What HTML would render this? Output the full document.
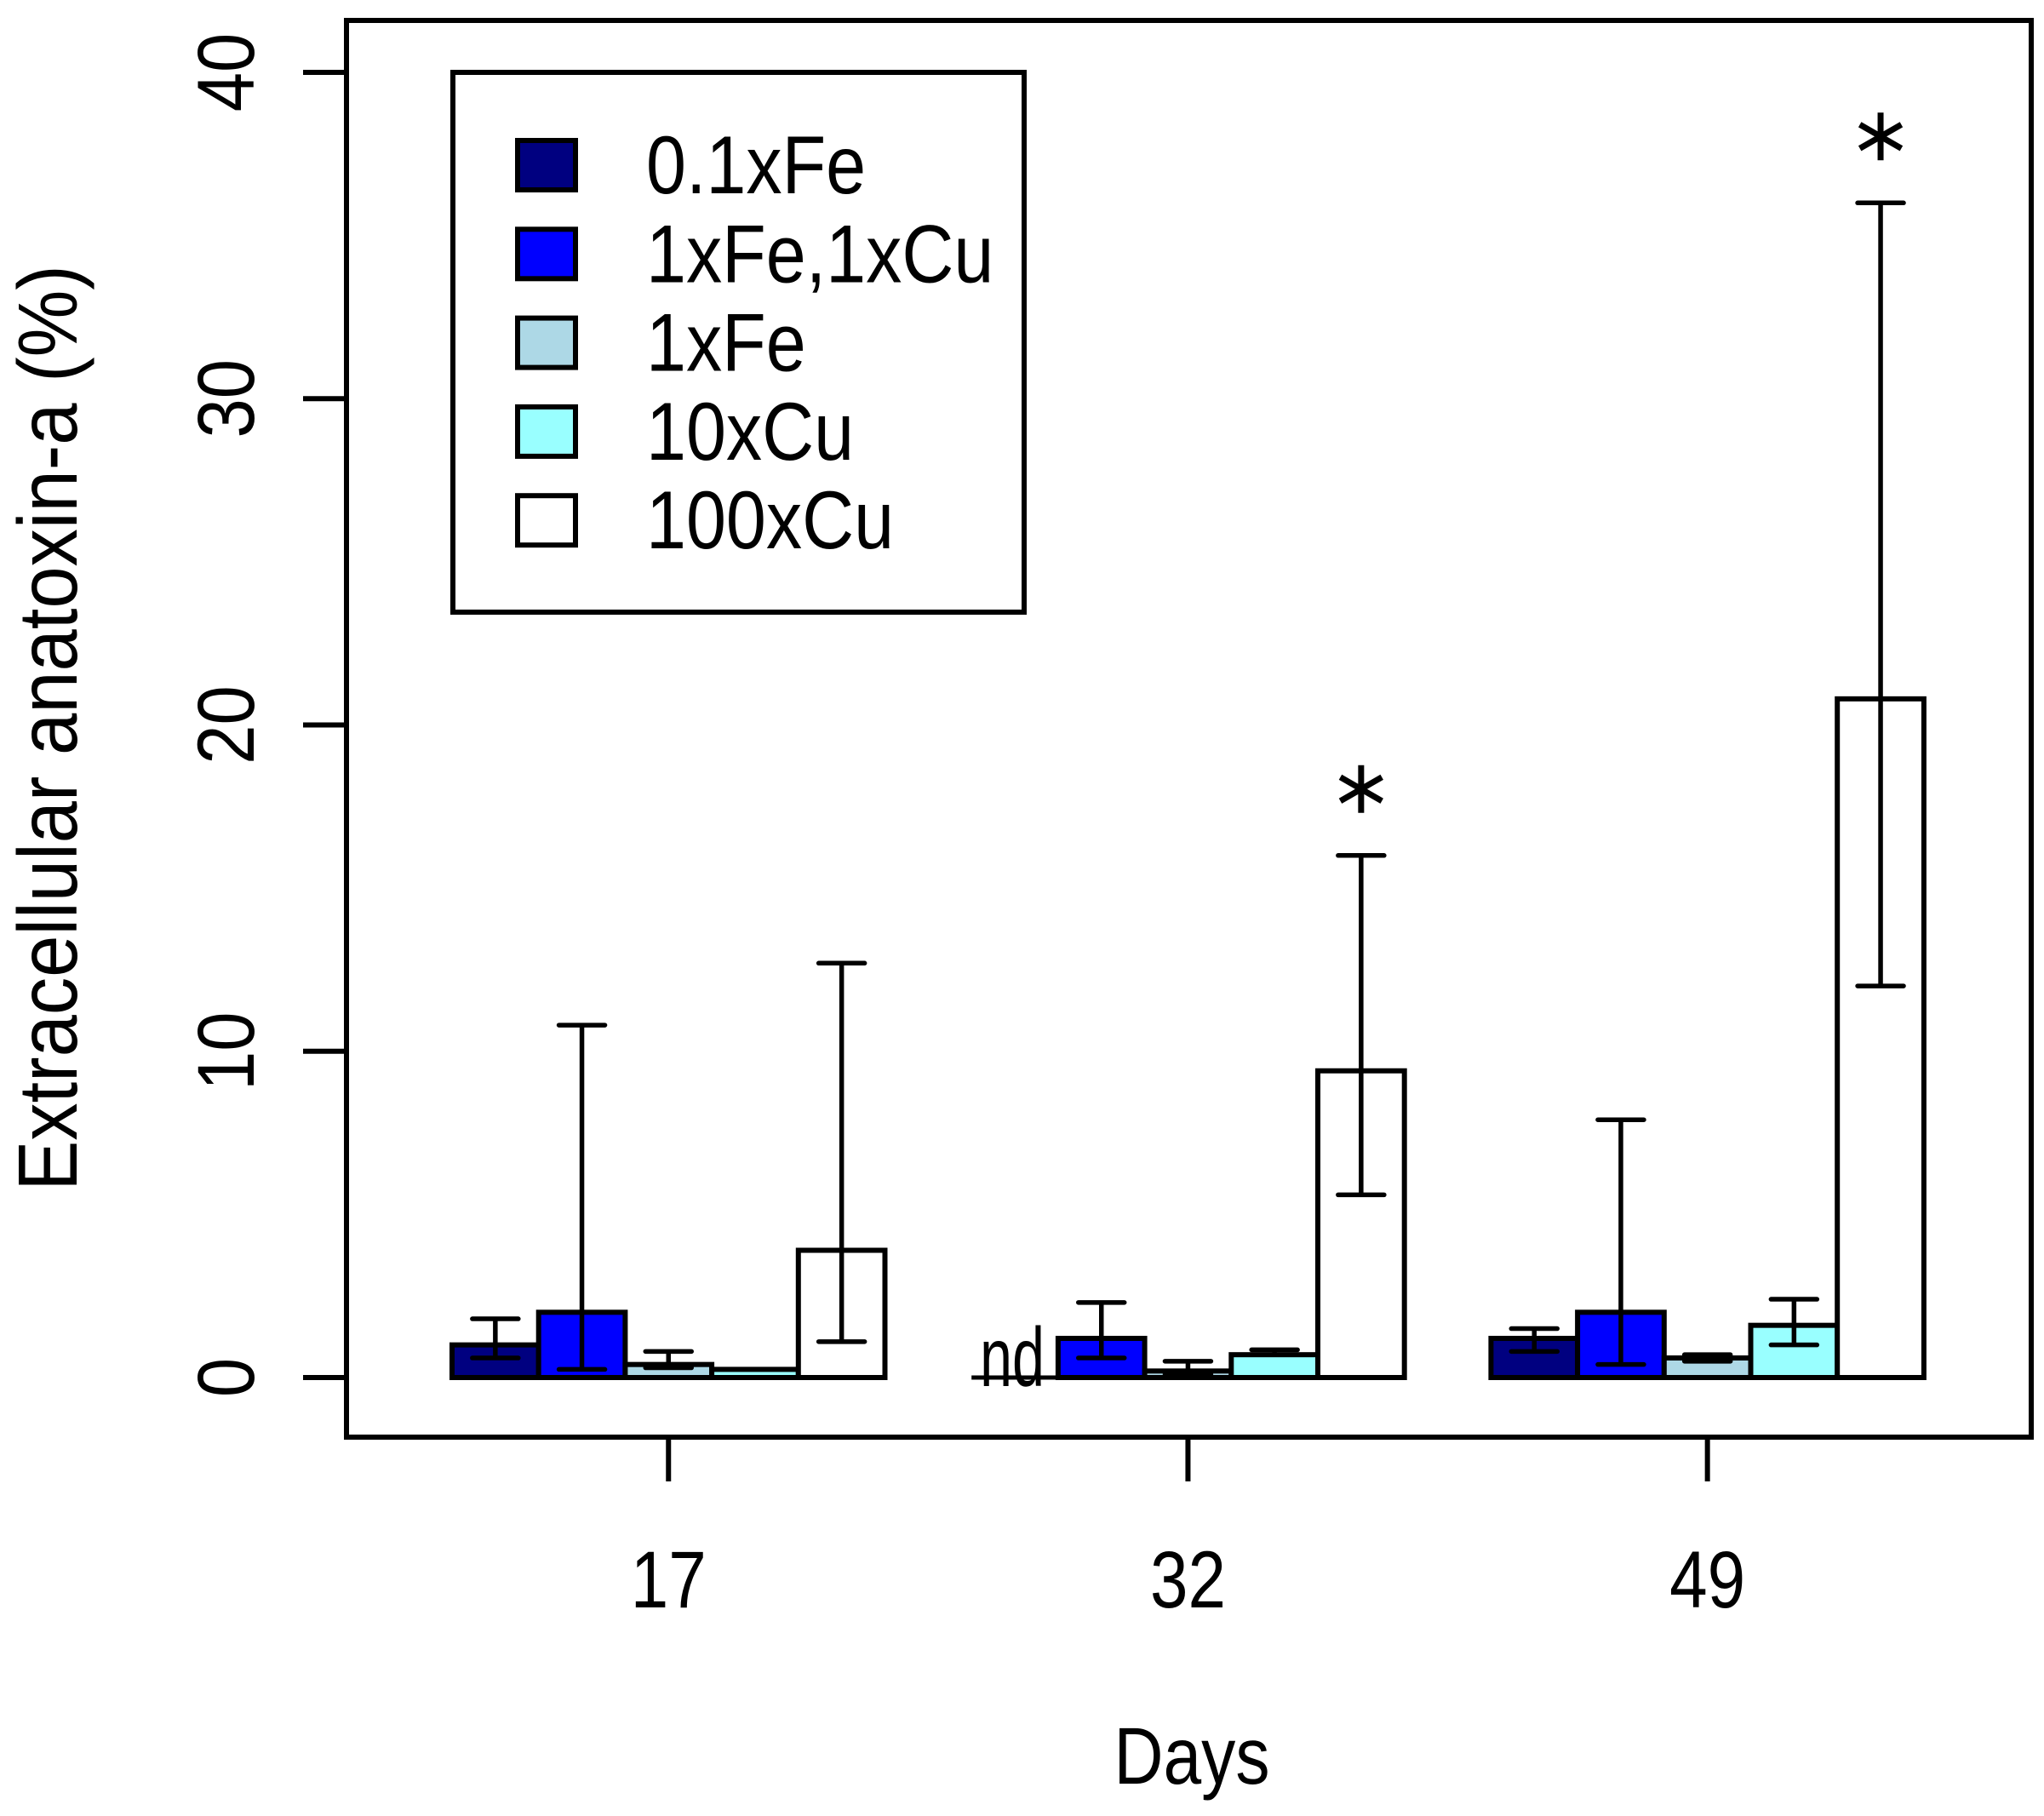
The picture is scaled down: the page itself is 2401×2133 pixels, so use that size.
<!DOCTYPE html>
<html><head><meta charset="utf-8">
<style>html,body{margin:0;padding:0;background:#fff}svg{display:block}text{font-family:"Liberation Sans",sans-serif;fill:#000}</style>
</head><body>
<svg id="chart" width="2401" height="2133" viewBox="0 0 2401 2133" xmlns="http://www.w3.org/2000/svg">
<rect x="407" y="24" width="1979" height="1664" fill="none" stroke="#000" stroke-width="6"/>
<g id="yaxis"></g>
<g id="xaxis"></g>
<g id="bars"></g>
<text transform="translate(90,855) rotate(-90) scale(1.08,1.2)" text-anchor="middle" font-size="82">Extracellular anatoxin-a (%)</text>
<text transform="translate(1400,2095) scale(0.98,1.16)" text-anchor="middle" font-size="82">Days</text>
<g id="legend">
<rect x="532" y="85" width="671" height="634" fill="none" stroke="#000" stroke-width="6"/>
</g>
</svg>
<script>
const categories = ["17","32","49"];
const series = ["0.1xFe","1xFe,1xCu","1xFe","10xCu","100xCu"];
const colors = ["#000080","#0000ff","#add8e6","#99ffff","#ffffff"];
const values = [[1.0,2.0,0.4,0.25,3.9],[0,1.2,0.2,0.7,9.4],[1.2,2.0,0.6,1.6,20.8]];
const errHigh = [[1.8,10.8,0.8,null,12.7],[null,2.3,0.5,0.85,16.0],[1.5,7.9,0.7,2.4,36.0]];
const errLow = [[0.6,0.25,0.3,null,1.1],[null,0.6,0.1,0.7,5.6],[0.8,0.4,0.5,1.0,12.0]];
const notDetected = [[false,false,false,false,false],[true,false,false,false,false],[false,false,false,false,false]];
const significant = [[false,false,false,false,false],[false,false,false,false,true],[false,false,false,false,true]];
const yTicks = [0,10,20,30,40];

const NS="http://www.w3.org/2000/svg";
const y0=1618, y40=85;
function yScale(v){return y0-(y0-y40)*v/40;}
const bw=101.7, x0=531;
function xBar(g,s){return x0+(g*6+s)*bw;}
function mk(tag,attrs,parent){const e=document.createElementNS(NS,tag);for(const k in attrs)e.setAttribute(k,attrs[k]);parent.appendChild(e);return e;}

const ya=document.getElementById('yaxis');
yTicks.forEach(t=>{
  const y=yScale(t);
  const l=mk('line',{x1:356,x2:407,y1:y,y2:y,stroke:'#000','stroke-width':6},ya);
  
  
  const tx=mk('text',{transform:`translate(298,${y}) rotate(-90) scale(1.04,1.18)`,'text-anchor':'middle','font-size':80},ya);
  tx.textContent=String(t);
  
  
});
const xa=document.getElementById('xaxis');
categories.forEach((c,g)=>{
  const cx=xBar(g,0)+2.5*bw;
  const l=mk('line',{x1:cx,x2:cx,y1:1688,y2:1740,stroke:'#000','stroke-width':6},xa);
  
  
  const tx=mk('text',{transform:`translate(${cx},1888) scale(1,1.18)`,'text-anchor':'middle','font-size':80},xa);
  tx.textContent=c;
  
  
});
const bg=document.getElementById('bars');
categories.forEach((c,g)=>{
  series.forEach((s,i)=>{
    const v=values[g][i], x=xBar(g,i);
    if(notDetected[g][i]){
      const ln=mk('line',{x1:x,x2:x+bw,y1:y0,y2:y0,stroke:'#000','stroke-width':5},bg);
      
      
      const t=mk('text',{transform:`translate(${x+bw/2-3},${y0+10}) scale(0.9,1.3)`,'text-anchor':'middle','font-size':76},bg);
      t.textContent='nd';
      
      
      return;
    }
    const r=mk('rect',{x:x,y:yScale(v),width:bw,height:y0-yScale(v),fill:colors[i],stroke:'#000','stroke-width':6},bg);
    
    
    if(errHigh[g][i]!=null){
      const cx=x+bw/2, yh=yScale(errHigh[g][i]), yl=yScale(errLow[g][i]);
      const e=mk('path',{d:`M${cx},${yh}V${yl}M${cx-27},${yh}H${cx+27}M${cx-27},${yl}H${cx+27}`,stroke:'#000','stroke-width':5.5,fill:'none','stroke-linecap':'round'},bg);
      
      
      if(significant[g][i]){
        const sy=yh-78, r2=28;
        const d=`M${cx},${sy-r2}V${sy+r2}M${cx-r2*0.87},${sy-r2/2}L${cx+r2*0.87},${sy+r2/2}M${cx-r2*0.87},${sy+r2/2}L${cx+r2*0.87},${sy-r2/2}`;
        const st=mk('path',{d:d,stroke:'#000','stroke-width':7,fill:'none'},bg);
        
        
      }
    }
  });
});
const lg=document.getElementById('legend');
series.forEach((s,i)=>{
  const cy=194+i*104.3;
  const r=mk('rect',{x:608,y:cy-29,width:68,height:58,fill:colors[i],stroke:'#000','stroke-width':6},lg);
  
  
  const t=mk('text',{transform:`translate(759,${cy+33}) scale(1.03,1.18)`,'font-size':82},lg);
  t.textContent=s;
  
  
});
</script>
</body></html>
